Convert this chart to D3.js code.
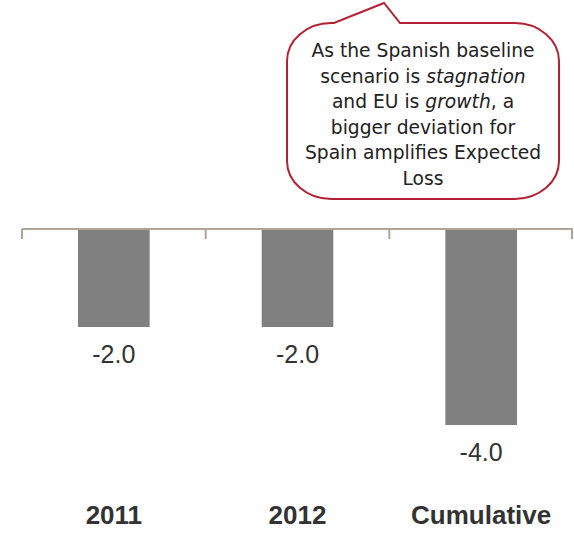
<!DOCTYPE html>
<html><head><meta charset="utf-8">
<script src="https://cdn.jsdelivr.net/npm/d3@7"></script>
<style>body{margin:0;background:#fff}</style>
</head><body><svg id="c" width="574" height="534"></svg>
<script>
const categories = ["2011", "2012", "Cumulative"];
const values = [-2.0, -2.0, -4.0];
const valueLabels = ["-2.0", "-2.0", "-4.0"];
const calloutLines = [
  [["As the Spanish baseline", false]],
  [["scenario is ", false], ["stagnation", true]],
  [["and EU is ", false], ["growth", true], [", a", false]],
  [["bigger deviation for", false]],
  [["Spain amplifies Expected", false]],
  [["Loss", false]]
];

const svg = d3.select("#c");
const x = d3.scaleBand().domain(categories).range([22, 573]).paddingInner(0.61).paddingOuter(0.305);
const y = d3.scaleLinear().domain([-4, 0]).range([425, 229]);

// bars
svg.selectAll("rect.bar").data(values).enter().append("rect")
  .attr("class", "bar")
  .attr("x", (d, i) => x(categories[i]))
  .attr("width", x.bandwidth())
  .attr("y", y(0))
  .attr("height", d => y(d) - y(0))
  .attr("fill", "#808080");

// axis line with ticks between groups
const step = x.step();
const axisG = svg.append("g");
axisG.append("line").attr("x1", 22).attr("x2", 573).attr("y1", y(0)).attr("y2", y(0))
  .attr("stroke", "#b0a599").attr("stroke-width", 2);
const tickXs = [22].concat(categories.map(c => x(c) - x.paddingInner() * step / 2 + step));
tickXs.forEach(t => {
  axisG.append("line").attr("x1", Math.min(t, 572)).attr("x2", Math.min(t, 572))
    .attr("y1", y(0)).attr("y2", y(0) + 10)
    .attr("stroke", "#b0a599").attr("stroke-width", 2);
});

// value labels
svg.selectAll("text.val").data(values).enter().append("text")
  .attr("class", "val")
  .attr("x", (d, i) => x(categories[i]) + x.bandwidth() / 2)
  .attr("y", d => y(d) + 36)
  .attr("text-anchor", "middle")
  .attr("font-family", "Liberation Sans, Arial, sans-serif")
  .attr("font-size", 25)
  .attr("fill", "#333")
  .text((d, i) => valueLabels[i]);

// category labels
svg.selectAll("text.cat").data(categories).enter().append("text")
  .attr("class", "cat")
  .attr("x", d => x(d) + x.bandwidth() / 2)
  .attr("y", 524)
  .attr("text-anchor", "middle")
  .attr("font-family", "Liberation Sans, Arial, sans-serif")
  .attr("font-weight", "bold")
  .attr("font-size", 26)
  .attr("fill", "#333")
  .text(d => d);

// callout
const bx0 = 287, bx1 = 559, by0 = 23, by1 = 199, rx = 44, ry = 38;
const p = d3.path();
p.moveTo(bx0 + rx, by0);
p.lineTo(334, by0);
p.lineTo(384, 3);
p.lineTo(400, by0);
p.lineTo(bx1 - rx, by0);
p.bezierCurveTo(bx1 - rx * 0.45, by0, bx1, by0 + ry * 0.45, bx1, by0 + ry);
p.lineTo(bx1, by1 - ry);
p.bezierCurveTo(bx1, by1 - ry * 0.45, bx1 - rx * 0.45, by1, bx1 - rx, by1);
p.lineTo(bx0 + rx, by1);
p.bezierCurveTo(bx0 + rx * 0.45, by1, bx0, by1 - ry * 0.45, bx0, by1 - ry);
p.lineTo(bx0, by0 + ry);
p.bezierCurveTo(bx0, by0 + ry * 0.45, bx0 + rx * 0.45, by0, bx0 + rx, by0);
p.closePath();
svg.append("path").attr("d", p.toString()).attr("fill", "#fff")
  .attr("stroke", "#b22234").attr("stroke-width", 2);

const ct = svg.append("text")
  .attr("text-anchor", "middle")
  .attr("font-family", "DejaVu Sans, Verdana, sans-serif")
  .attr("font-size", 18.7)
  .attr("fill", "#222");
calloutLines.forEach((line, i) => {
  const t = ct.append("tspan").attr("x", 423).attr("y", 57 + i * 25.5);
  line.forEach(([s, it]) => {
    t.append("tspan").text(s).attr("font-style", it ? "italic" : "normal");
  });
});
</script></body></html>
